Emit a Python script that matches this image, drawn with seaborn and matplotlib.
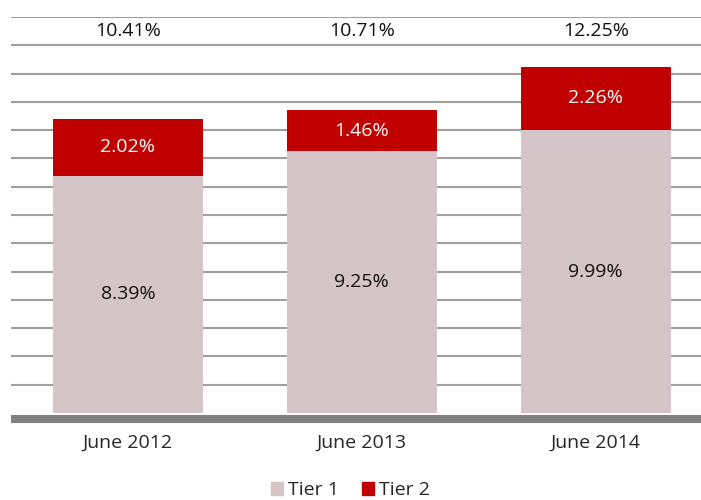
import pandas as pd
import matplotlib.pyplot as plt
import seaborn as sns

# data
periods = ['June 2012', 'June 2013', 'June 2014']
tier1 = [8.39, 9.25, 9.99]
tier2 = [2.02, 1.46, 2.26]

df = pd.DataFrame({'period': periods, 'tier1': tier1, 'tier2': tier2})
df['total'] = df['tier1'] + df['tier2']

sns.set_style('white')
plt.rcParams['font.family'] = ['Open Sans', 'DejaVu Sans']

c_t1 = '#D5C4C8'
c_t2 = '#C00000'
fs = 14

fig = plt.figure(figsize=(7.01, 5), dpi=100)
ax = fig.add_axes([11 / 701, 87 / 500, 690 / 701, 396 / 500])

# stacked bars: total (tier 2 colour) behind, tier 1 in front
sns.barplot(data=df, x='period', y='total', color=c_t2, saturation=1,
            width=0.64, linewidth=0, edgecolor='none', ax=ax, zorder=2)
sns.barplot(data=df, x='period', y='tier1', color=c_t1, saturation=1,
            width=0.64, linewidth=0, edgecolor='none', ax=ax, zorder=3)

ax.set_ylim(0, 14)
ax.set_xlim(-0.5, 2.45)
ax.set_yticks(range(1, 15))
ax.yaxis.grid(True, color='#A0A0A0', linewidth=1.5)
ax.set_axisbelow(True)
ax.set_yticklabels([])
ax.tick_params(axis='both', length=0)
ax.tick_params(axis='x', labelsize=fs, pad=11)
ax.set_xlabel('')
ax.set_ylabel('')

for s in ['top', 'left', 'right']:
    ax.spines[s].set_visible(False)
ax.spines['bottom'].set_color('#808080')
ax.spines['bottom'].set_linewidth(5.8)
ax.spines['bottom'].set_capstyle('butt')
ax.spines['bottom'].set_position(('outward', 4))

# value labels
for i, row in df.iterrows():
    ax.text(i, row['tier1'] / 2, f"{row['tier1']:.2f}%", ha='center', va='center',
            fontsize=fs, color='#111111', zorder=5)
    ax.text(i, row['tier1'] + row['tier2'] / 2, f"{row['tier2']:.2f}%", ha='center',
            va='center', fontsize=fs, color='white', zorder=5)
    ax.text(i, 13.5, f"{row['total']:.2f}%", ha='center', va='center',
            fontsize=fs, color='#111111', zorder=5)

handles = [plt.Rectangle((0, 0), 1, 1, color=c_t1),
           plt.Rectangle((0, 0), 1, 1, color=c_t2)]
fig.legend(handles, ['Tier 1', 'Tier 2'], loc='lower center', ncol=2,
           frameon=False, fontsize=fs, handlelength=0.6, handleheight=0.6,
           handletextpad=0.25, columnspacing=1.2, borderaxespad=0.1,
           bbox_to_anchor=(0.5, -0.018))

fig.savefig('out.png', dpi=100)
